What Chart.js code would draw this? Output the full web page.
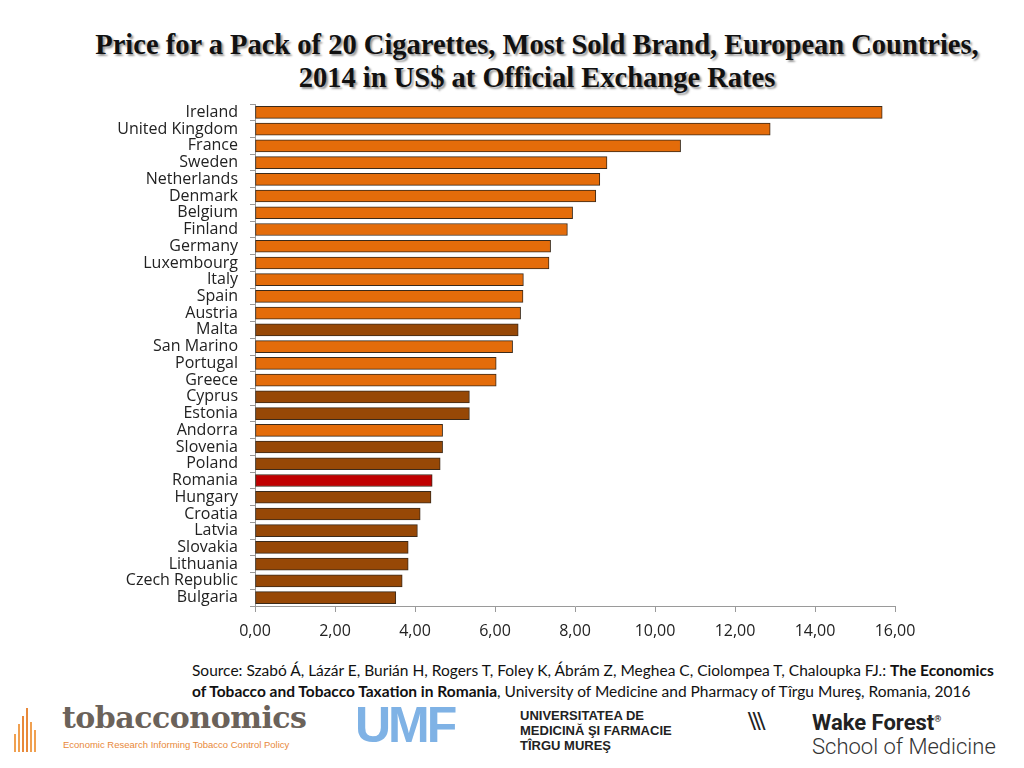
<!DOCTYPE html>
<html>
<head>
<meta charset="utf-8">
<script src="https://cdn.jsdelivr.net/npm/chart.js@4.4.1/dist/chart.umd.min.js"></script>
<style>
  body { margin: 0; width: 1024px; height: 768px; background: #fff; position: relative; overflow: hidden; font-family: "Open Sans", sans-serif; }
  #title { position: absolute; left: 40px; width: 994px; top: 28px; text-align: center; font-family: "Liberation Serif", serif; font-weight: bold; font-size: 28.5px; line-height: 33px; color: #111; text-shadow: 2px 2px 2px #999; }
  #wrap { position: absolute; left: 0; top: 0; width: 1024px; height: 660px; }
  #source { position: absolute; left: 192px; top: 660px; font-family: Lato, sans-serif; font-size: 15.5px; line-height: 21px; color: #111; white-space: nowrap; }
  .logo { position: absolute; }
</style>
</head>
<body>
<div id="title">Price for a Pack of 20 Cigarettes, Most Sold Brand, European Countries,<br>2014 in US$ at Official Exchange Rates</div>
<div id="wrap"><canvas id="myChart"></canvas></div>
<div id="source">Source: Szabó Á, Lázár E, Burián H, Rogers T, Foley K, Ábrám Z, Meghea C, Ciolompea T, Chaloupka FJ.: <b>The Economics</b><br><b>of Tobacco and Tobacco Taxation in Romania</b>, University of Medicine and Pharmacy of Tîrgu Mureş, Romania, 2016</div>

<div class="logo" style="left:14px; top:706px; width:30px; height:46px;">
  <div style="position:absolute;left:0;bottom:0;width:2px;height:18px;background:#f0a050"></div>
  <div style="position:absolute;left:4px;bottom:0;width:2px;height:28px;background:#f0a050"></div>
  <div style="position:absolute;left:8px;bottom:0;width:2px;height:36px;background:#e8893a"></div>
  <div style="position:absolute;left:12px;bottom:0;width:2px;height:44px;background:#e8893a"></div>
  <div style="position:absolute;left:16px;bottom:0;width:2px;height:30px;background:#f0a050"></div>
  <div style="position:absolute;left:20px;bottom:0;width:2px;height:22px;background:#f0a050"></div>
</div>
<div class="logo" style="left:62px; top:700px; font-family:'DejaVu Serif',serif; font-weight:bold; font-size:30px; color:#6b625a; letter-spacing:-0.5px;">tobacconomics</div>
<div class="logo" style="left:63px; top:739px; font-family:'Liberation Sans Narrow','Liberation Sans',sans-serif; font-size:9.5px; color:#e8893a;">Economic Research Informing Tobacco Control Policy</div>

<div class="logo" style="left:355px; top:700px; font-family:'Liberation Sans',sans-serif; font-weight:bold; font-size:50px; line-height:50px; color:#7fb2e5; letter-spacing:-3px;">UMF</div>
<div class="logo" style="left:520px; top:708px; font-family:'Liberation Sans',sans-serif; font-weight:bold; font-size:13px; line-height:15px; color:#222;">UNIVERSITATEA DE<br>MEDICINĂ ŞI FARMACIE<br>TÎRGU MUREŞ</div>

<div class="logo" style="left:748px; top:706px; font-family:'Liberation Serif',serif; font-weight:bold; font-size:28px; line-height:30px; color:#222; letter-spacing:-3px;">\\\</div>
<div class="logo" style="left:812px; top:706px; font-family:'Roboto',sans-serif; font-weight:bold; font-size:22px; line-height:26px; color:#222;">Wake Forest<sup style="font-size:9px">®</sup></div>
<div class="logo" style="left:812px; top:734px; font-family:'Roboto',sans-serif; font-weight:300; font-size:22px; line-height:26px; color:#333;">School of Medicine</div>

<script>
var countries = ["Ireland", "United Kingdom", "France", "Sweden", "Netherlands", "Denmark", "Belgium", "Finland", "Germany", "Luxembourg",
  "Italy", "Spain", "Austria", "Malta", "San Marino", "Portugal", "Greece", "Cyprus", "Estonia", "Andorra",
  "Slovenia", "Poland", "Romania", "Hungary", "Croatia", "Latvia", "Slovakia", "Lithuania", "Czech Republic", "Bulgaria"];
var prices = [15.68, 12.88, 10.64, 8.80, 8.62, 8.52, 7.94, 7.81, 7.39, 7.35,
  6.71, 6.70, 6.64, 6.58, 6.44, 6.03, 6.03, 5.36, 5.36, 4.69,
  4.69, 4.63, 4.43, 4.40, 4.13, 4.06, 3.83, 3.83, 3.68, 3.52];
// old = orange, new = brown, ro = red
var groups = ["old", "old", "old", "old", "old", "old", "old", "old", "old", "old",
  "old", "old", "old", "new", "old", "old", "old", "new", "new", "old",
  "new", "new", "ro", "new", "new", "new", "new", "new", "new", "new"];
var xTicks = [0, 2, 4, 6, 8, 10, 12, 14, 16];

var groupColor = { old: "#E46C0A", new: "#974806", ro: "#C00000" };

var ctx = document.getElementById("myChart").getContext('2d');
var myChart = new Chart(ctx, {
    type: 'bar',
    data: {
        labels: countries,
        datasets: [{
            data: prices,
            backgroundColor: groups.map(function (g) { return groupColor[g]; }),
            borderColor: '#3b2a1a',
            borderWidth: 1,
            borderSkipped: false,
            barThickness: 12
        }]
    },
    options: {
        indexAxis: 'y',
        responsive: true,
        maintainAspectRatio: false,
        animation: false,
        layout: { padding: { left: 0, top: 104, right: 129, bottom: 14 } },
        plugins: { legend: { display: false }, tooltip: { enabled: false } },
        scales: {
            y: {
                grid: { offset: true, drawOnChartArea: false, drawTicks: true, tickLength: 5, color: '#9a9a9a' },
                border: { color: '#9a9a9a', width: 1 },
                ticks: { color: '#222', padding: 12, autoSkip: false, font: { family: 'Open Sans', size: 16 } },
                afterFit: function (scale) { scale.width = 255; }
            },
            x: {
                min: 0,
                max: 16,
                afterBuildTicks: function (scale) { scale.ticks = xTicks.map(function (v) { return { value: v }; }); },
                grid: { drawOnChartArea: false, drawTicks: true, tickLength: 6, color: '#9a9a9a' },
                border: { color: '#9a9a9a', width: 1 },
                ticks: {
                    color: '#222',
                    padding: 10,
                    font: { family: 'Open Sans', size: 16 },
                    callback: function (v) { return Number(v).toFixed(2).replace('.', ','); }
                },
                afterFit: function (scale) { scale.height = 40; }
            }
        }
    }
});
</script>
</body>
</html>
